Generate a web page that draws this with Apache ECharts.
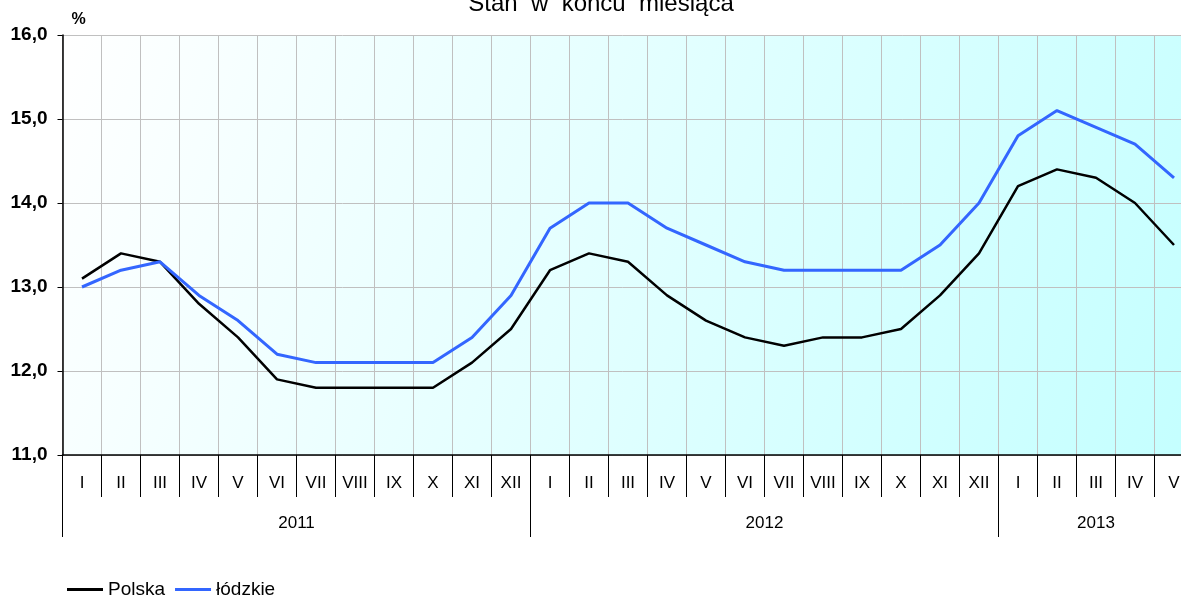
<!DOCTYPE html>
<html lang="pl">
<head>
    <meta charset="UTF-8">
    <title>Stopa bezrobocia</title>
    <style>
        html, body { margin: 0; padding: 0; background: #fff; }
        #box { width: 1181px; height: 597px; }
    </style>
    <script src="https://cdn.jsdelivr.net/npm/echarts@6/dist/echarts.min.js"></script>
</head>
<body>
    <div id="box"></div>
    <script>
        // dane
        const months = ['I', 'II', 'III', 'IV', 'V', 'VI', 'VII', 'VIII', 'IX', 'X', 'XI', 'XII'];
        const years = ['2011', '2012', '2013'];
        const monthsPerYear = [12, 12, 5];
        const polska = [13.1, 13.4, 13.3, 12.8, 12.4, 11.9, 11.8, 11.8, 11.8, 11.8, 12.1, 12.5,
            13.2, 13.4, 13.3, 12.9, 12.6, 12.4, 12.3, 12.4, 12.4, 12.5, 12.9, 13.4,
            14.2, 14.4, 14.3, 14.0, 13.5];
        const lodzkie = [13.0, 13.2, 13.3, 12.9, 12.6, 12.2, 12.1, 12.1, 12.1, 12.1, 12.4, 12.9,
            13.7, 14.0, 14.0, 13.7, 13.5, 13.3, 13.2, 13.2, 13.2, 13.2, 13.5, 14.0,
            14.8, 15.1, 14.9, 14.7, 14.3];
        const yTicks = [11, 12, 13, 14, 15, 16];

        (function () {
            const font = 'Liberation Sans, Arial, sans-serif';

            // kategorie miesięcy i granice lat
            let categories = [];
            let yearEdges = [0];
            let yearCenters = [];
            let pos = 0;
            monthsPerYear.forEach(function (n) {
                categories = categories.concat(months.slice(0, n));
                yearCenters.push(pos + n / 2);
                pos += n;
                yearEdges.push(pos);
            });

            let option = {
                animation: false,
                title: {
                    text: 'Stan  w  końcu  miesiąca',
                    left: 596,
                    textAlign: 'center',
                    top: -13,
                    textStyle: { fontFamily: font, fontSize: 24, fontWeight: 'normal', color: '#000' }
                },
                legend: {
                    left: 62,
                    top: 575,
                    icon: 'rect',
                    itemWidth: 36,
                    itemHeight: 3,
                    itemGap: 10,
                    textStyle: { fontFamily: font, fontSize: 19, color: '#000' },
                    data: ['Polska', 'łódzkie']
                },
                grid: {
                    left: 62.5,
                    top: 35,
                    width: 1131,
                    height: 420,
                    outerBoundsMode: 'none',
                    show: true,
                    borderWidth: 0,
                    backgroundColor: new echarts.graphic.LinearGradient(0, 0, 1, 1, [
                        { offset: 0, color: '#ffffff' },
                        { offset: 1, color: '#c4ffff' }
                    ])
                },
                xAxis: [{
                    type: 'category',
                    data: categories,
                    position: 'bottom',
                    boundaryGap: true,
                    axisLine: { show: true, lineStyle: { color: '#000', width: 1.5 } },
                    axisTick: { show: true, interval: 0, length: 42, lineStyle: { color: '#000', width: 1 } },
                    axisLabel: { interval: 0, margin: 20, fontFamily: font, fontSize: 17, color: '#000' },
                    splitLine: { show: true, interval: 0, lineStyle: { color: '#c0c0c0' } }
                }, {
                    type: 'value',
                    min: 0,
                    max: categories.length,
                    position: 'bottom',
                    axisLine: { show: false },
                    splitLine: { show: false },
                    axisTick: { show: true, customValues: yearEdges, length: 82, lineStyle: { color: '#000' } },
                    axisLabel: {
                        customValues: yearCenters,
                        margin: 60,
                        fontFamily: font,
                        fontSize: 17,
                        color: '#000',
                        formatter: function (v) {
                            let i = yearCenters.indexOf(v);
                            return i >= 0 ? years[i] : '';
                        }
                    }
                }],
                yAxis: {
                    type: 'value',
                    min: yTicks[0],
                    max: yTicks[yTicks.length - 1],
                    interval: 1,
                    name: '%',
                    nameLocation: 'end',
                    nameGap: 7,
                    nameTextStyle: { fontFamily: font, fontSize: 16, fontWeight: 'bold', color: '#000', align: 'left', padding: [0, 0, 0, 9] },
                    axisLine: { show: true, lineStyle: { color: '#000', width: 1.5 } },
                    axisTick: { show: true, length: 5, lineStyle: { color: '#000' } },
                    axisLabel: {
                        margin: 15,
                        fontFamily: font,
                        fontSize: 19,
                        fontWeight: 'bold',
                        color: '#000',
                        formatter: function (v) { return v.toFixed(1).replace('.', ','); }
                    },
                    splitLine: { lineStyle: { color: '#c0c0c0' } }
                },
                series: [{
                    name: 'Polska',
                    type: 'line',
                    data: polska,
                    showSymbol: false,
                    symbol: 'none',
                    color: '#000000',
                    lineStyle: { width: 2.5, color: '#000000' }
                }, {
                    name: 'łódzkie',
                    type: 'line',
                    data: lodzkie,
                    showSymbol: false,
                    symbol: 'none',
                    color: '#3366ff',
                    lineStyle: { width: 3, color: '#3366ff' }
                }]
            };

            let chart = echarts.init(document.getElementById('box'));
            chart.setOption(option);
        })();
    </script>
</body>
</html>
